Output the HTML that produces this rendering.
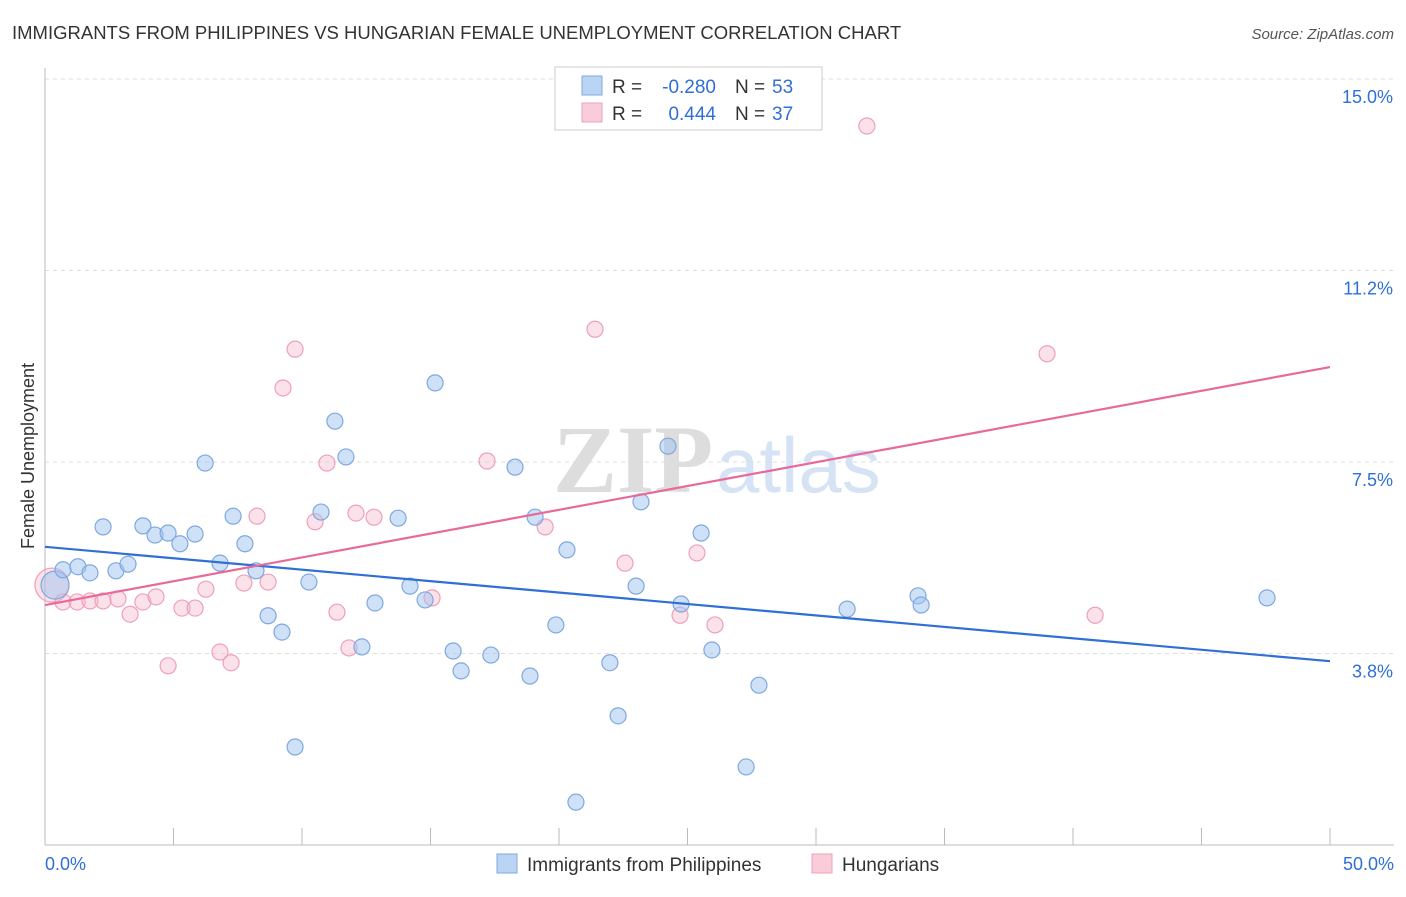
<!DOCTYPE html>
<html><head><meta charset="utf-8"><style>
body{margin:0;background:#fff;font-family:"Liberation Sans",sans-serif;}
</style></head><body>
<svg id="chart" width="1406" height="892" xmlns="http://www.w3.org/2000/svg">
<text x="12" y="39" font-size="18.5" fill="#333">IMMIGRANTS FROM PHILIPPINES VS HUNGARIAN FEMALE UNEMPLOYMENT CORRELATION CHART</text>
<text x="1394" y="39" font-size="15" fill="#555" font-style="italic" text-anchor="end">Source: ZipAtlas.com</text>
<g><text x="553" y="492" font-size="96" font-family="Liberation Serif" fill="#ddd" font-weight="bold">ZIP</text><text x="716" y="492" font-size="78" fill="#d6e3f5">atlas</text></g>
<g id="grid"></g>
<g id="axes"></g>
<g id="marks"></g>
<g>
<rect x="555" y="67" width="267" height="63" fill="#fff" stroke="#ccc"/>
<rect x="582" y="76" width="20" height="19" fill="#bcd4f4" stroke="#7fa8e0"/>
<text x="612" y="93" font-size="19" fill="#333">R =</text>
<text x="716" y="93" font-size="19" fill="#2f6fd6" text-anchor="end">-0.280</text>
<text x="735" y="93" font-size="19" fill="#333">N =</text>
<text x="772" y="93" font-size="19" fill="#2f6fd6">53</text>
<rect x="582" y="103" width="20" height="19" fill="#f9ccda" stroke="#eea0b8"/>
<text x="612" y="120" font-size="19" fill="#333">R =</text>
<text x="716" y="120" font-size="19" fill="#2f6fd6" text-anchor="end">0.444</text>
<text x="735" y="120" font-size="19" fill="#333">N =</text>
<text x="772" y="120" font-size="19" fill="#2f6fd6">37</text>
</g>
<g>
<rect x="497" y="854" width="20" height="19" fill="#bcd4f4" stroke="#7fa8e0"/>
<text x="527" y="871" font-size="19" fill="#333">Immigrants from Philippines</text>
<rect x="812" y="854" width="20" height="19" fill="#f9ccda" stroke="#eea0b8"/>
<text x="842" y="871" font-size="19" fill="#333">Hungarians</text>
</g>
<text x="34" y="456" font-size="18" fill="#333" transform="rotate(-90 34 456)" text-anchor="middle">Female Unemployment</text>
</svg>
<script>
const yTicks=[15.0,11.25,7.5,3.75];
const yTickLabels=["15.0%","11.2%","7.5%","3.8%"];
const xTicks=[0,5,10,15,20,25,30,35,40,45,50];
const xEndLabels=["0.0%","50.0%"];
const blueX=[0.39,0.70,1.28,1.75,2.26,2.76,3.23,3.81,4.28,4.79,5.25,5.84,6.23,6.81,7.32,7.78,8.21,8.68,9.22,9.73,10.27,10.74,11.28,11.71,12.33,12.84,13.74,14.20,14.79,15.18,15.88,16.19,17.35,18.29,18.87,19.07,19.88,20.31,20.66,21.98,22.30,23.00,23.19,24.24,24.75,25.53,25.95,27.28,27.78,31.21,33.97,34.09,47.55];
const blueY=[5.09,5.39,5.45,5.33,6.23,5.37,5.50,6.25,6.07,6.11,5.90,6.09,7.48,5.52,6.44,5.90,5.37,4.49,4.17,1.92,5.15,6.52,8.30,7.60,3.88,4.74,6.40,5.07,4.80,9.05,3.80,3.41,3.72,7.40,3.31,6.42,4.31,5.78,0.84,3.57,2.53,5.07,6.72,7.81,4.72,6.11,3.82,1.53,3.13,4.62,4.88,4.70,4.84];
const pinkX=[0.27,0.70,1.25,1.75,2.26,2.84,3.31,3.81,4.32,4.79,5.33,5.84,6.26,6.81,7.24,7.74,8.25,8.68,9.26,9.73,10.51,10.97,11.36,11.83,12.10,12.80,15.06,17.20,19.46,21.40,22.57,24.71,25.37,26.07,31.98,38.99,40.86];
const pinkY=[5.09,4.76,4.76,4.78,4.78,4.82,4.52,4.76,4.86,3.51,4.64,4.64,5.01,3.78,3.57,5.13,6.44,5.15,8.95,9.71,6.33,7.48,4.56,3.86,6.50,6.42,4.84,7.52,6.23,10.10,5.52,4.50,5.72,4.31,14.08,9.62,4.50];
const blueTrend=[5.84,3.60];
const pinkTrend=[4.70,9.36];
const NS="http://www.w3.org/2000/svg";
const sx=v=>45+v*1285/50;
const sy=v=>79+(15-v)*51.07;
function mk(tag,attrs,parent){const e=document.createElementNS(NS,tag);for(const k in attrs)e.setAttribute(k,attrs[k]);document.getElementById(parent).appendChild(e);return e;}
yTicks.forEach((t,i)=>{
 const g=mk('line',{x1:45,x2:1394,y1:sy(t),y2:sy(t),stroke:'#ddd','stroke-dasharray':'4,4'},'grid');
 
 
 const l=mk('text',{x:1393,y:sy(t)+24,'font-size':18,fill:'#2f6fd6','text-anchor':'end'},'grid');
 l.textContent=yTickLabels[i];
 
 
});
const ax=mk('line',{x1:45,x2:45,y1:68,y2:845,stroke:'#bbb'},'axes');


const bx=mk('line',{x1:45,x2:1394,y1:845,y2:845,stroke:'#bbb'},'axes');


xTicks.forEach(t=>{
 const e=mk('line',{x1:sx(t),x2:sx(t),y1:828,y2:845,stroke:'#bbb'},'axes');
 
 
});
const xl0=mk('text',{x:45,y:870,'font-size':18,fill:'#2f6fd6'},'axes');xl0.textContent=xEndLabels[0];


const xl1=mk('text',{x:1394,y:870,'font-size':18,fill:'#2f6fd6','text-anchor':'end'},'axes');xl1.textContent=xEndLabels[1];


pinkX.forEach((x,i)=>{
 const c=mk('circle',{cx:sx(x),cy:sy(pinkY[i]),r:i==0?17:8,fill:'rgba(246,182,202,0.4)',stroke:'#eea0b8','stroke-width':1.2},'marks');
 
 
});
blueX.forEach((x,i)=>{
 const c=mk('circle',{cx:sx(x),cy:sy(blueY[i]),r:i==0?14:8,fill:'rgba(160,196,240,0.5)',stroke:'#7fa8e0','stroke-width':1.2},'marks');
 
 
});
const tb=mk('line',{x1:sx(0),y1:sy(blueTrend[0]),x2:sx(50),y2:sy(blueTrend[1]),stroke:'#2f6fd6','stroke-width':2.2},'marks');


const tp=mk('line',{x1:sx(0),y1:sy(pinkTrend[0]),x2:sx(50),y2:sy(pinkTrend[1]),stroke:'#e8699a','stroke-width':2.2},'marks');


</script>
</body></html>
